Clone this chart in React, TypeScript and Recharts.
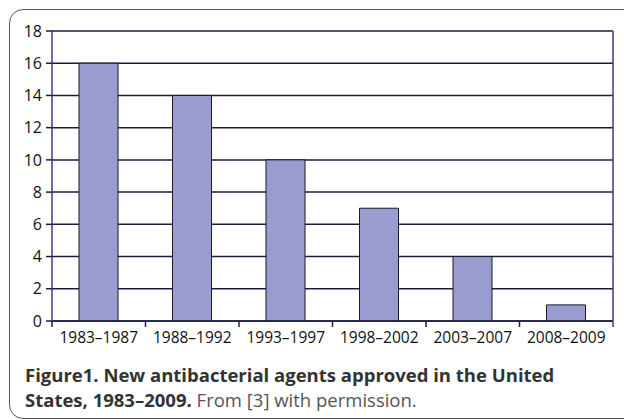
import { Bar, BarChart, CartesianGrid, XAxis, YAxis } from "recharts";

const periods = ["1983–1987", "1988–1992", "1993–1997", "1998–2002", "2003–2007", "2008–2009"];
const approvals = [16, 14, 10, 7, 4, 1];
const yTicks = [0, 2, 4, 6, 8, 10, 12, 14, 16, 18];

const data = periods.map((p, i) => ({ period: p, agents: approvals[i] }));

const font = "'Open Sans', 'Noto Sans', sans-serif";
const W = 624;
const LEFT = 52;
const RIGHT = 11;
const band = (W - LEFT - RIGHT) / periods.length;

// category label plus a tick mark on the boundary to its left (and right, for the last one)
function PeriodTick(props: any) {
  const { x, y, payload, index } = props;
  const last = index === periods.length - 1;
  return (
    <g>
      <line x1={x - band / 2} x2={x - band / 2} y1={y} y2={y + 6} stroke="#1c1c40" strokeWidth={1.5} />
      {last && <line x1={x + band / 2} x2={x + band / 2} y1={y} y2={y + 6} stroke="#3a3a8a" strokeWidth={1.5} />}
      <text x={x} y={y + 22} textAnchor="middle" fill="#111" fontSize={15.5} fontFamily={font}>
        {payload.value}
      </text>
    </g>
  );
}

export default function App() {
  return (
    <div style={{ position: "absolute", left: 0, top: 0, width: 624, height: 420, overflow: "hidden", background: "#fff", fontFamily: font }}>
      <div style={{ position: "absolute", left: 9, top: 9, width: 700, height: 408, border: "1.5px solid #555", borderRadius: 14 }} />
      <div style={{ position: "absolute", left: 0, top: 0 }}>
        <BarChart width={W} height={352} data={data} margin={{ top: 31, right: RIGHT, bottom: 0, left: 0 }}>
          <CartesianGrid vertical={false} stroke="#1c1c40" strokeWidth={1.5} />
          <XAxis
            dataKey="period"
            tickLine={false}
            axisLine={{ stroke: "#1c1c40", strokeWidth: 1.5 }}
            interval={0}
            tickSize={0}
            tickMargin={0}
            tick={<PeriodTick />}
            height={31}
          />
          <YAxis
            domain={[0, 18]}
            ticks={yTicks}
            width={LEFT}
            interval={0}
            tickSize={6}
            tickMargin={4}
            tickLine={{ stroke: "#1c1c40", strokeWidth: 1.5 }}
            axisLine={{ stroke: "#3a3a8a", strokeWidth: 1.5 }}
            tick={{ fill: "#111", fontSize: 16, fontFamily: font }}
          />
          <Bar dataKey="agents" fill="#9a9ccf" stroke="#1a1a2a" strokeWidth={1} barSize={39} isAnimationActive={false} />
        </BarChart>
      </div>
      <svg style={{ position: "absolute", left: 0, top: 0 }} width={W} height={352} pointerEvents="none">
        <line x1={W - RIGHT} x2={W - RIGHT} y1={31} y2={321} stroke="#3a3a8a" strokeWidth={1.5} />
      </svg>
      <div style={{ position: "absolute", left: 25, top: 362, width: 595, fontSize: 18.5, lineHeight: "25px", color: "#333" }}>
        <div style={{ fontWeight: 700 }}>Figure1. New antibacterial agents approved in the United</div>
        <div>
          <b>States, 1983–2009.</b> <span style={{ color: "#555" }}>From [3] with permission.</span>
        </div>
      </div>
    </div>
  );
}
